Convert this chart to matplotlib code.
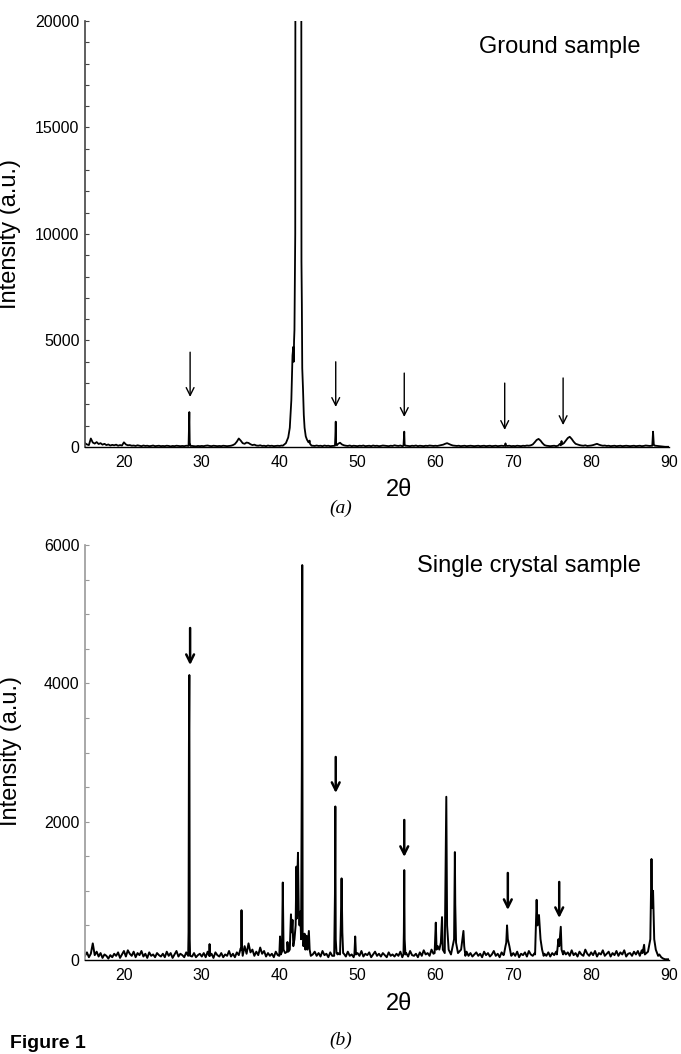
import numpy as np
import matplotlib
matplotlib.use("Agg")
import matplotlib.pyplot as plt

plt.rcParams['font.family'] = ['Liberation Sans', 'DejaVu Sans']

# --- data ---
# baseline samples on a 0.25 deg grid, 15 .. 90
GRID_START, GRID_STEP = 15.0, 0.25

base_a = [
    180, 120, 90, 400, 210, 160, 230, 140, 180, 110, 150, 90, 120, 70, 100, 80, 110, 60, 90, 70,
    220, 120, 80, 90, 60, 70, 50, 80, 60, 40, 70, 50, 60, 40, 50, 70, 40, 50, 60, 40,
    50, 40, 60, 50, 30, 50, 40, 60, 50, 40, 50, 40, 60, 50, 40, 50, 40, 30, 50, 40,
    50, 40, 60, 70, 50, 40, 60, 50, 40, 50, 40, 60, 50, 40, 50, 60, 90, 140, 250, 400,
    300, 180, 150, 210, 190, 130, 90, 110, 70, 60, 80, 50, 60, 40, 70, 50, 60, 40, 50, 60,
    50, 70, 60, 60, 60, 60, 60, 60, 60, 60, 60, 60, 60, 60, 60, 60, 60, 60, 50, 70,
    50, 60, 40, 70, 50, 60, 40, 50, 60, 60, 150, 200, 120, 80, 60, 50, 70, 40, 60, 50,
    40, 60, 50, 70, 40, 50, 60, 40, 70, 50, 60, 40, 50, 70, 60, 50, 40, 60, 50, 80,
    60, 50, 70, 40, 60, 60, 50, 40, 60, 50, 70, 40, 60, 50, 40, 60, 50, 70, 60, 50,
    60, 50, 70, 90, 110, 150, 180, 140, 100, 70, 60, 50, 60, 40, 50, 60, 40, 50, 60, 50,
    40, 50, 60, 40, 50, 60, 40, 50, 60, 40, 50, 60, 40, 50, 60, 50, 60, 50, 60, 40,
    50, 40, 60, 50, 40, 60, 50, 70, 60, 80, 120, 220, 330, 380, 300, 180, 90, 60, 50, 40,
    50, 60, 40, 60, 150, 250, 180, 300, 420, 480, 380, 250, 150, 120, 90, 70, 60, 80, 50, 60,
    70, 90, 120, 150, 110, 80, 60, 70, 50, 60, 40, 50, 60, 40, 50, 60, 40, 50, 60, 50,
    40, 50, 60, 40, 50, 60, 40, 50, 70, 60, 50, 60, 60, 60, 50, 40, 30, 20, 10, 10,
    10,
]

peaks_a = [
    [(28.3, 50), (28.35, 900), (28.4, 1640), (28.45, 200), (28.55, 50)],
    [(40.4, 60), (40.8, 180), (41.1, 450), (41.3, 900), (41.5, 2200), (41.65, 4300),
     (41.75, 4700), (41.8, 4000), (41.85, 5000), (41.9, 5500), (42.0, 10000),
     (42.05, 40000), (42.75, 40000), (42.8, 8700), (42.85, 6700), (42.9, 3700),
     (43.0, 2700), (43.1, 1500), (43.2, 900), (43.35, 500), (43.5, 350), (43.7, 220),
     (43.85, 300), (43.9, 150), (44.1, 60)],
    [(47.1, 60), (47.15, 500), (47.2, 1190), (47.25, 150), (47.35, 80)],
    [(55.9, 60), (56.0, 720), (56.05, 100), (56.15, 60)],
    [(68.95, 60), (69.0, 170), (69.05, 60)],
    [(76.1, 80), (76.2, 280), (76.25, 120)],
    [(87.85, 60), (87.95, 720), (88.05, 100), (88.2, 60)],
]

base_b = [
    60, 110, 40, 90, 240, 70, 120, 50, 100, 30, 80, 60, 20, 70, 40, 90, 60, 110, 30, 80,
    130, 50, 140, 90, 60, 120, 40, 100, 70, 130, 50, 90, 30, 110, 60, 80, 40, 100, 70, 50,
    90, 40, 120, 60, 100, 30, 80, 130, 50, 90, 70, 40, 110, 60, 80, 50, 100, 40, 70, 90,
    50, 100, 40, 120, 60, 90, 30, 110, 70, 50, 100, 40, 80, 60, 130, 50, 90, 40, 110, 70,
    170, 60, 200, 90, 240, 110, 150, 60, 120, 70, 180, 90, 130, 50, 100, 60, 90, 40, 120, 70,
    60, 60, 60, 60, 60, 60, 60, 60, 60, 60, 60, 60, 60, 60, 60, 60, 60, 80, 120, 60,
    100, 50, 130, 70, 90, 40, 110, 60, 80, 50, 100, 40, 60, 90, 50, 120, 60, 80, 40, 70,
    100, 60, 130, 50, 90, 70, 110, 40, 80, 120, 60, 90, 50, 100, 70, 40, 110, 60, 80, 50,
    90, 60, 120, 40, 80, 100, 50, 130, 70, 60, 90, 40, 110, 60, 140, 80, 100, 60, 150, 90,
    60, 60, 60, 60, 60, 60, 60, 60, 60, 60, 60, 60, 60, 60, 60, 60, 120, 60, 100, 50,
    80, 110, 60, 90, 40, 120, 70, 100, 50, 80, 130, 60, 90, 40, 110, 70, 100, 50, 80, 60,
    100, 60, 120, 40, 90, 70, 110, 50, 130, 80, 60, 100, 60, 60, 60, 60, 90, 60, 110, 50,
    100, 70, 120, 60, 60, 60, 130, 80, 110, 60, 140, 70, 100, 50, 120, 80, 60, 150, 90, 60,
    110, 70, 130, 50, 100, 80, 140, 60, 90, 120, 50, 100, 70, 130, 60, 110, 80, 140, 50, 90,
    100, 60, 120, 80, 130, 60, 140, 60, 60, 60, 60, 60, 60, 60, 60, 80, 40, 20, 10, 10,
    10,
]

peaks_b = [
    [(28.25, 60), (28.3, 400), (28.35, 3120), (28.4, 4120), (28.45, 300), (28.5, 60)],
    [(30.95, 60), (31.0, 230), (31.05, 60)],
    [(35.05, 150), (35.1, 720), (35.15, 200)],
    [(39.95, 60), (40.05, 340), (40.15, 80), (40.3, 120), (40.4, 1120), (40.5, 150),
     (40.7, 100), (40.95, 120), (41.0, 260), (41.1, 120), (41.3, 150), (41.45, 660),
     (41.55, 400), (41.65, 580), (41.75, 200), (41.9, 300), (42.05, 500), (42.15, 1350),
     (42.2, 600), (42.3, 1300), (42.35, 1550), (42.45, 700), (42.55, 500), (42.65, 700),
     (42.75, 300), (42.85, 2880), (42.9, 5710), (42.95, 400), (43.05, 200), (43.2, 380),
     (43.3, 150), (43.45, 350), (43.55, 150), (43.75, 420), (43.85, 150), (44.0, 60)],
    [(47.0, 60), (47.1, 950), (47.15, 2220), (47.2, 300), (47.3, 100), (47.45, 80)],
    [(47.75, 80), (47.85, 500), (47.95, 1180), (48.05, 400), (48.15, 100)],
    [(49.6, 80), (49.7, 340), (49.8, 80)],
    [(55.9, 80), (55.95, 400), (56.0, 1300), (56.05, 300), (56.15, 80)],
    [(59.9, 100), (60.05, 540), (60.15, 150), (60.3, 200), (60.5, 150), (60.7, 250),
     (60.85, 620), (60.95, 150), (61.2, 100), (61.4, 2360), (61.5, 500), (61.7, 150),
     (62.0, 80), (62.4, 300), (62.5, 1560), (62.55, 800), (62.65, 250), (62.9, 100),
     (63.3, 150), (63.6, 420), (63.7, 200), (63.85, 60)],
    [(68.8, 80), (69.0, 200), (69.1, 250), (69.2, 500), (69.3, 300), (69.5, 200), (69.7, 80)],
    [(72.8, 80), (73.0, 870), (73.1, 500), (73.3, 650), (73.5, 300), (73.7, 150), (73.9, 60)],
    [(75.6, 80), (75.8, 300), (75.9, 200), (76.1, 480), (76.2, 150), (76.4, 80)],
    [(86.6, 100), (86.8, 220), (86.9, 80), (87.3, 120), (87.6, 300), (87.75, 1460),
     (87.85, 750), (87.95, 1000), (88.1, 300), (88.3, 150), (88.6, 60)],
]

# arrows: position, top, tip
arrows_a = [(28.5, 4450, 2350), (47.2, 4000, 1880), (56.0, 3470, 1410),
            (68.9, 3000, 800), (76.4, 3240, 1030)]
arrows_b = [(28.5, 4800, 4265), (47.2, 2935, 2415), (56.0, 2024, 1490),
            (69.3, 1258, 723), (75.9, 1128, 607)]


def merge(base, groups):
    x = GRID_START + GRID_STEP * np.arange(len(base))
    y = np.array(base, dtype=float)
    keep = np.ones(len(x), dtype=bool)
    for g in groups:
        gx = [p[0] for p in g]
        keep &= ~((x >= min(gx) - 1e-9) & (x <= max(gx) + 1e-9))
    px = [p[0] for g in groups for p in g]
    py = [p[1] for g in groups for p in g]
    xs = np.concatenate([x[keep], px])
    ys = np.concatenate([y[keep], py])
    order = np.argsort(xs)
    return xs[order], ys[order]


def style_axis(ax, ymax, major, minor, spine_color):
    ax.set_xlim(15, 90)
    ax.set_ylim(0, ymax)
    ax.set_xticks([20, 30, 40, 50, 60, 70, 80, 90])
    ax.set_yticks(np.arange(0, ymax + 1, major))
    ax.set_yticks(np.arange(0, ymax + 1, minor), minor=True)
    for s in ['top', 'right']:
        ax.spines[s].set_visible(False)
    ax.spines['left'].set_color(spine_color)
    ax.spines['left'].set_linewidth(1.2)
    ax.spines['bottom'].set_linewidth(1.0)
    ax.tick_params(axis='y', which='both', direction='in', length=3, width=0.8,
                   color=spine_color, labelsize=11.5, pad=4)
    ax.tick_params(axis='x', length=0, labelsize=11.5, pad=6)
    ax.set_ylabel("Intensity (a.u.)", fontsize=17)
    ax.set_xlabel("2θ", fontsize=17, labelpad=0)


fig = plt.figure(figsize=(6.81, 10.54), dpi=100)

# --- panel (a) ---
ax1 = fig.add_axes([0.1248, 0.5759, 0.8576, 0.4042])
xa, ya = merge(base_a, peaks_a)
ax1.plot(xa, ya, color='black', lw=1.3)
style_axis(ax1, 20000, 5000, 1000, '#444444')
ax1.yaxis.set_label_coords(-0.11, 0.5)
ax1.xaxis.set_label_coords(0.538, -0.075)
ax1.text(0.952, 0.94, "Ground sample", transform=ax1.transAxes, fontsize=17,
         ha='right', va='center')
for x, top, tip in arrows_a:
    ax1.annotate('', xy=(x, tip), xytext=(x, top),
                 arrowprops=dict(arrowstyle='->', lw=1.0, color='black',
                                 mutation_scale=14, shrinkA=0, shrinkB=0))

# --- panel (b) ---
ax2 = fig.add_axes([0.1248, 0.0892, 0.8576, 0.3937])
xb, yb = merge(base_b, peaks_b)
ax2.plot(xb, yb, color='black', lw=1.4)
style_axis(ax2, 6000, 2000, 500, '#999999')
ax2.yaxis.set_label_coords(-0.107, 0.504)
ax2.xaxis.set_label_coords(0.538, -0.08)
ax2.text(0.952, 0.95, "Single crystal sample", transform=ax2.transAxes, fontsize=17,
         ha='right', va='center')
for x, top, tip in arrows_b:
    ax2.annotate('', xy=(x, tip), xytext=(x, top),
                 arrowprops=dict(arrowstyle='->', lw=1.8, color='black',
                                 mutation_scale=14, shrinkA=0, shrinkB=0))

# panel letters and caption
fig.text(341 / 681, 1 - 508 / 1054, "(a)", fontsize=14, style='italic',
         family='Liberation Serif', ha='center', va='center')
fig.text(341 / 681, 1 - 1040 / 1054, "(b)", fontsize=14, style='italic',
         family='Liberation Serif', ha='center', va='center')
fig.text(10 / 681, 2 / 1054, "Figure 1", fontsize=14, weight='bold',
         ha='left', va='bottom')

fig.savefig("out.png", dpi=100)
